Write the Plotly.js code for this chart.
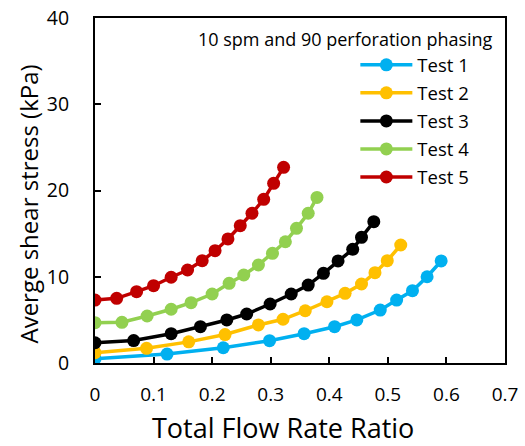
<!DOCTYPE html>
<html>
<head>
<meta charset="utf-8">
<script src="https://cdn.plot.ly/plotly-3.0.1.min.js"></script>
<style>html,body{margin:0;padding:0;background:#fff;}#chart{width:525px;height:446px;}</style>
</head>
<body>
<div id="chart"></div>
<script>
const seriesNames = ["Test 1", "Test 2", "Test 3", "Test 4", "Test 5"];
const seriesColors = ["#00B0F0", "#FFC000", "#000000", "#92D050", "#C00000"];

const test1X = [0, 0.123, 0.219, 0.298, 0.357, 0.409, 0.447, 0.487, 0.515, 0.542, 0.567, 0.591];
const test1Y = [0.5, 1.04, 1.77, 2.59, 3.40, 4.21, 4.99, 6.14, 7.30, 8.38, 10.0, 11.83];

const test2X = [0, 0.088, 0.160, 0.222, 0.279, 0.321, 0.359, 0.396, 0.427, 0.455, 0.478, 0.499, 0.522];
const test2Y = [1.2, 1.70, 2.45, 3.30, 4.41, 5.07, 6.06, 7.10, 8.08, 9.16, 10.47, 11.86, 13.68];

const test3X = [0, 0.066, 0.130, 0.180, 0.225, 0.259, 0.299, 0.335, 0.364, 0.390, 0.415, 0.440, 0.455, 0.476];
const test3Y = [2.35, 2.6, 3.4, 4.21, 4.99, 5.68, 6.84, 8.0, 9.04, 10.4, 11.83, 13.18, 14.57, 16.38];

const test4X = [0, 0.046, 0.089, 0.130, 0.164, 0.200, 0.229, 0.254, 0.279, 0.303, 0.325, 0.344, 0.364, 0.379];
const test4Y = [4.67, 4.72, 5.45, 6.23, 6.99, 8.0, 9.24, 10.2, 11.36, 12.72, 14.06, 15.62, 17.36, 19.2];

const test5X = [0, 0.037, 0.071, 0.100, 0.130, 0.158, 0.183, 0.205, 0.227, 0.248, 0.268, 0.288, 0.305, 0.322];
const test5Y = [7.3, 7.5, 8.27, 8.96, 9.94, 10.78, 11.86, 13.02, 14.38, 15.92, 17.36, 18.98, 20.83, 22.69];

const xTickVals = [0, 0.1, 0.2, 0.3, 0.4, 0.5, 0.6, 0.7];
const xTickText = ["0", "0.1", "0.2", "0.3", "0.4", "0.5", "0.6", "0.7"];
const yTickVals = [0, 10, 20, 30, 40];
const yTickText = ["0", "10", "20", "30", "40"];

const xs = [test1X, test2X, test3X, test4X, test5X];
const ys = [test1Y, test2Y, test3Y, test4Y, test5Y];

const FONT = "Open Sans, Noto Sans, sans-serif";

const traces = seriesNames.map((n, i) => ({
  x: xs[i], y: ys[i], name: n, type: "scatter", mode: "lines+markers",
  legendgroup: "g" + i,
  line: {color: seriesColors[i], width: 3.5},
  marker: {color: seriesColors[i], size: 13}
}));

const layout = {
  width: 525, height: 446,
  margin: {l: 94.5, r: 20, t: 18, b: 83, pad: 0},
  paper_bgcolor: "#fff", plot_bgcolor: "#fff",
  showlegend: true,
  font: {family: FONT, color: "#000"},
  xaxis: {
    range: [0, 0.7], tickvals: xTickVals, ticktext: xTickText,
    ticks: "inside", ticklen: 6, tickwidth: 2, tickcolor: "#000",
    showline: true, linecolor: "#000", linewidth: 2, mirror: true,
    showgrid: false, zeroline: false,
    tickfont: {size: 19, family: FONT, color: "#000"},
    ticklabelstandoff: 13,
    title: {text: ""}
  },
  yaxis: {
    range: [0, 40], tickvals: yTickVals, ticktext: yTickText,
    ticks: "inside", ticklen: 6, tickwidth: 2, tickcolor: "#000",
    showline: true, linecolor: "#000", linewidth: 2, mirror: true,
    showgrid: false, zeroline: false,
    tickfont: {size: 19.5, family: FONT, color: "#000"},
    ticklabelstandoff: 20,
    title: {text: ""}
  },
  legend: {
    x: 0.635, y: 0.918, xanchor: "left", yanchor: "top",
    bgcolor: "rgba(0,0,0,0)", borderwidth: 0,
    font: {size: 18.5, family: FONT, color: "#000"},
    itemwidth: 52, tracegroupgap: 1
  },
  annotations: [{
    text: "10 spm and 90 perforation phasing", showarrow: false,
    xref: "paper", yref: "paper", x: 0.975, y: 0.94, xanchor: "right", yanchor: "middle",
    font: {size: 18, family: FONT, color: "#000"}
  }, {
    text: "Averge shear stress (kPa)", showarrow: false, textangle: -90,
    xref: "paper", yref: "paper", x: -0.162, y: 0.461, xanchor: "center", yanchor: "middle",
    font: {size: 24, family: FONT, color: "#000"}
  }, {
    text: "Total Flow Rate Ratio", showarrow: false,
    xref: "paper", yref: "paper", x: 0.459, y: -0.186, xanchor: "center", yanchor: "middle",
    font: {size: 27, family: FONT, color: "#000"}
  }]
};

Plotly.newPlot("chart", traces, layout, {displayModeBar: false, staticPlot: true});
</script>
</body>
</html>
